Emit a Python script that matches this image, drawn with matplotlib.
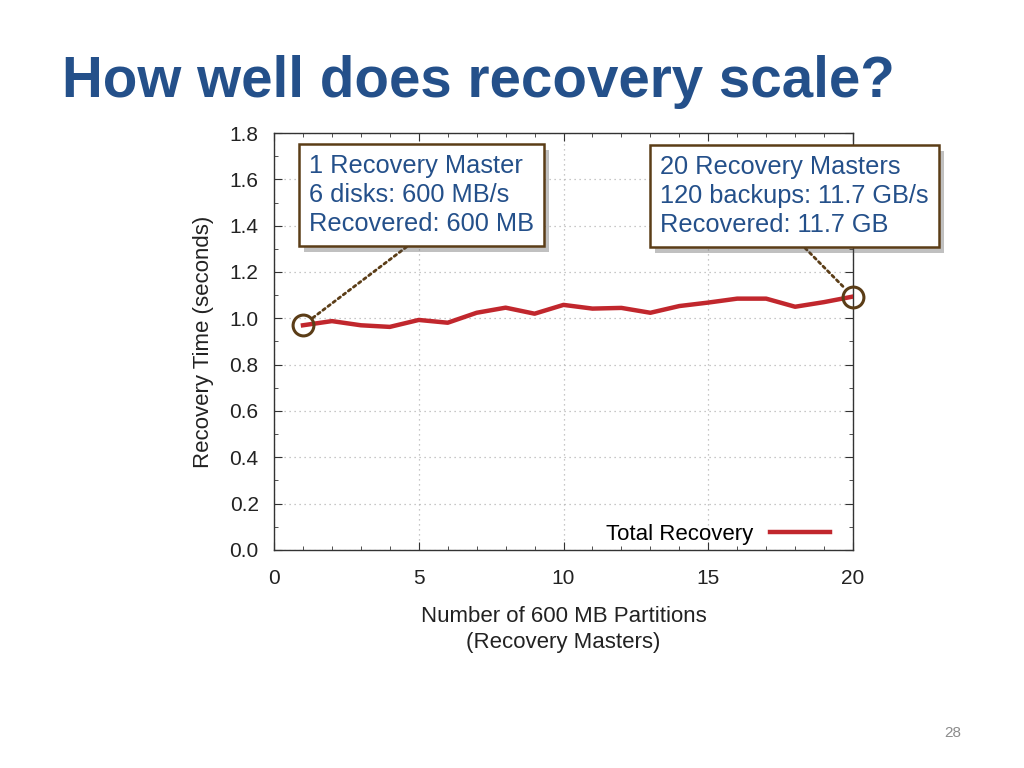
import matplotlib.pyplot as plt
import matplotlib.patheffects as pe
from matplotlib.ticker import MultipleLocator

plt.rcParams['font.family'] = ['Liberation Sans', 'DejaVu Sans']

# data
partitions = list(range(1, 21))
recovery_time = [0.97, 0.988, 0.97, 0.963, 0.993, 0.981, 1.024, 1.046, 1.02, 1.058,
                 1.042, 1.045, 1.024, 1.053, 1.068, 1.085, 1.085, 1.05, 1.07, 1.094]

title = 'How well does recovery scale?'
note_left = '1 Recovery Master\n6 disks: 600 MB/s\nRecovered: 600 MB'
note_right = '20 Recovery Masters\n120 backups: 11.7 GB/s\nRecovered: 11.7 GB'

blue = '#24508a'
brown = '#5b3d17'
red = '#c1272d'

fig = plt.figure(figsize=(10.24, 7.68), dpi=100)
fig.text(0.0605, 0.874, title, fontsize=40.7, fontweight='bold', color=blue,
         ha='left', va='baseline')
fig.text(0.93, 0.045, '28', fontsize=11, color='#8c8c8c', ha='center', va='center')

ax = fig.add_axes([0.2676, 0.2839, 0.5654, 0.5429])
ax.plot(partitions, recovery_time, color=red, lw=3.2, label='Total Recovery', zorder=3)

ax.set_xlim(0, 20)
ax.set_ylim(0, 1.8)
ax.xaxis.set_major_locator(MultipleLocator(5))
ax.xaxis.set_minor_locator(MultipleLocator(1))
ax.yaxis.set_major_locator(MultipleLocator(0.2))
ax.yaxis.set_minor_locator(MultipleLocator(0.1))
ax.yaxis.set_major_formatter(plt.FuncFormatter(lambda v, p: f'{v:.1f}'))
ax.tick_params(which='both', direction='in', top=True, right=True, colors='#333333',
               labelsize=15, labelcolor='#222222')
ax.tick_params(which='major', length=6)
ax.tick_params(axis='y', which='major', pad=11)
ax.tick_params(axis='x', which='major', pad=14)
ax.tick_params(which='minor', length=3)
for s in ax.spines.values():
    s.set_color('#333333')
    s.set_linewidth(1)
ax.grid(True, which='major', color='#b5b5b5', linestyle=(0, (1, 3)), lw=0.9)

ax.set_xlabel('Number of 600 MB Partitions\n(Recovery Masters)', fontsize=16,
              color='#222222', labelpad=13, linespacing=1.3)
ax.set_ylabel('Recovery Time (seconds)', fontsize=16, color='#222222', labelpad=11)

leg = ax.legend(loc='lower right', bbox_to_anchor=(0.987, -0.026), frameon=False,
                markerfirst=False, fontsize=16, handlelength=2.7, handletextpad=0.75,
                borderaxespad=0.3)

# highlighted points
ends = [0, len(partitions) - 1]
ax.plot([partitions[i] for i in ends], [recovery_time[i] for i in ends], 'o',
        ms=15, mfc='none', mec=brown, mew=2.2, zorder=5, clip_on=False)

notes = [(note_left, 0, (1.2, 1.708)), (note_right, len(partitions) - 1, (13.33, 1.703))]
for txt, idx, pos in notes:
    a = ax.annotate(txt, xy=(partitions[idx], recovery_time[idx]), xytext=pos,
                    textcoords='data', ha='left', va='top', fontsize=18.3, color=blue,
                    linespacing=1.25, annotation_clip=False, zorder=6,
                    bbox=dict(boxstyle='square,pad=0.4', fc='white', ec=brown, lw=1.8),
                    arrowprops=dict(arrowstyle='-', color=brown, lw=2, linestyle=(0, (1, 1.3)),
                                    relpos=(0.5, 0), shrinkA=0, shrinkB=8))
    a.get_bbox_patch().set_path_effects([pe.withSimplePatchShadow(offset=(4, -4), alpha=0.35)])

fig.savefig('out.png', dpi=100)
